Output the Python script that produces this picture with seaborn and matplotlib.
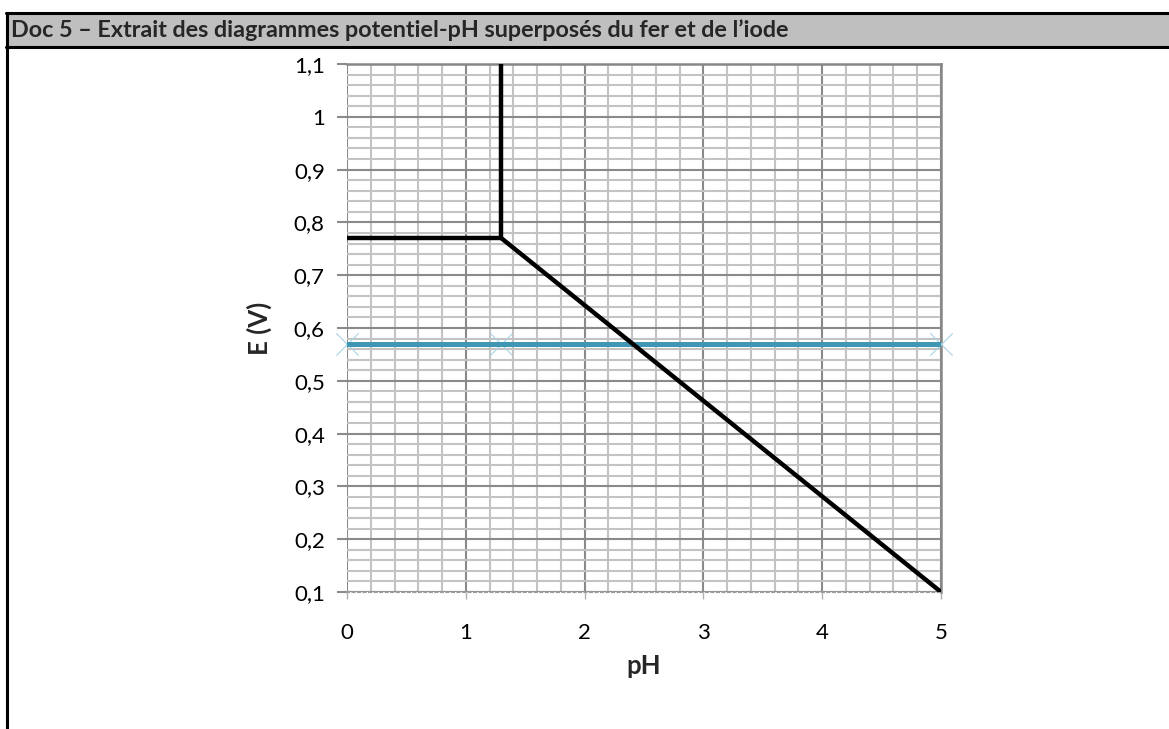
import matplotlib
matplotlib.use("Agg")
import matplotlib.pyplot as plt
import numpy as np
import pandas as pd
import seaborn as sns
from matplotlib.lines import Line2D
from matplotlib.patches import Rectangle
from matplotlib.ticker import FuncFormatter, MultipleLocator

TITLE = "Doc 5 \u2013 Extrait des diagrammes potentiel-pH superpos\u00e9s du fer et de l\u2019iode"

# fer : frontieres du diagramme (deux morceaux de ligne brisee)
iron_segment = ["a", "a", "a", "b", "b"]
iron_ph = [0.0, 1.3, 1.3, 1.3, 5.0]
iron_e = [0.77, 0.77, 1.1, 0.77, 0.1]

# iode : frontiere horizontale
iodine_ph = [0.0, 1.3, 5.0]
iodine_e = [0.57, 0.57, 0.57]

X_LIM = (0, 5)
Y_LIM = (0.1, 1.1)

sns.set_theme(style="white")
plt.rcParams["font.family"] = ["Lato", "DejaVu Sans"]

fig = plt.figure(figsize=(11.69, 7.29), dpi=100)
W, H = 1169, 729

# header bar and frame
fig.add_artist(Rectangle((6 / W, 1 - 47 / H), 1 - 6 / W, 34 / H, transform=fig.transFigure,
                         facecolor="#bfbfbf", edgecolor="none"))
for y in (13, 47):
    fig.add_artist(Line2D([6 / W, 1], [1 - y / H, 1 - y / H], transform=fig.transFigure,
                          color="black", linewidth=2.2))
fig.add_artist(Line2D([7 / W, 7 / W], [1 - 13 / H, 0], transform=fig.transFigure,
                      color="black", linewidth=2.2))
fig.text(11 / W, 1 - 30 / H, TITLE, ha="left", va="center", fontsize=16.8, fontweight="bold")

ax = fig.add_axes([347 / W, 1 - 592 / H, (941 - 347) / W, (592 - 64) / H])

iron_df = pd.DataFrame({"seg": iron_segment, "pH": iron_ph, "E": iron_e})
iodine_df = pd.DataFrame({"pH": iodine_ph, "E": iodine_e})

sns.lineplot(data=iodine_df, x="pH", y="E", color="#3f97b3", linewidth=3.6, ax=ax, zorder=4)
ax.scatter(iodine_df["pH"], iodine_df["E"], marker="x", s=260, color="#a9d5e6", linewidths=0.8,
           zorder=3, clip_on=False)
sns.lineplot(data=iron_df, x="pH", y="E", units="seg", estimator=None, sort=False,
             color="black", linewidth=3.2, ax=ax, zorder=5)

ax.set_xlim(*X_LIM)
ax.set_ylim(*Y_LIM)
ax.xaxis.set_major_locator(MultipleLocator(1))
ax.xaxis.set_minor_locator(MultipleLocator(0.2))
ax.yaxis.set_major_locator(MultipleLocator(0.1))
ax.yaxis.set_minor_locator(MultipleLocator(0.02))
ax.grid(which="minor", color="#c3c3c3", linewidth=1.5, zorder=1)
ax.grid(which="major", color="#8a8a8a", linewidth=1.5, zorder=2)
ax.set_axisbelow(True)

fmt = FuncFormatter(lambda v, p: f"{v:.1f}".rstrip("0").rstrip(".").replace(".", ",") if abs(v) > 1e-9 else "0")
ax.yaxis.set_major_formatter(fmt)
ax.xaxis.set_major_formatter(FuncFormatter(lambda v, p: f"{v:.0f}"))

for side in ("top", "right"):
    ax.spines[side].set_color("#878787")
    ax.spines[side].set_linewidth(1.8)
ax.spines["left"].set_visible(False)
ax.spines["bottom"].set_color("#9a9a9a")
ax.spines["bottom"].set_linestyle(":")
ax.spines["bottom"].set_linewidth(1.5)

ax.tick_params(axis="y", which="major", left=True, length=7, width=1.5, color="#8a8a8a",
               labelsize=16, pad=9, labelcolor="black")
ax.tick_params(axis="y", which="minor", left=False)
ax.tick_params(axis="x", which="major", bottom=True, length=5, width=1.0, color="#b0b0b0",
               labelsize=16, pad=17, labelcolor="black")
ax.tick_params(axis="x", which="minor", bottom=False)
for t in ax.xaxis.get_major_ticks():
    t.tick1line.set_linestyle(":")

ax.set_xlabel("pH", fontsize=18.5, fontweight="bold", labelpad=8)
ax.set_ylabel("E (V)", fontsize=18.5, fontweight="bold", labelpad=16)

fig.savefig("out.png", dpi=100)
